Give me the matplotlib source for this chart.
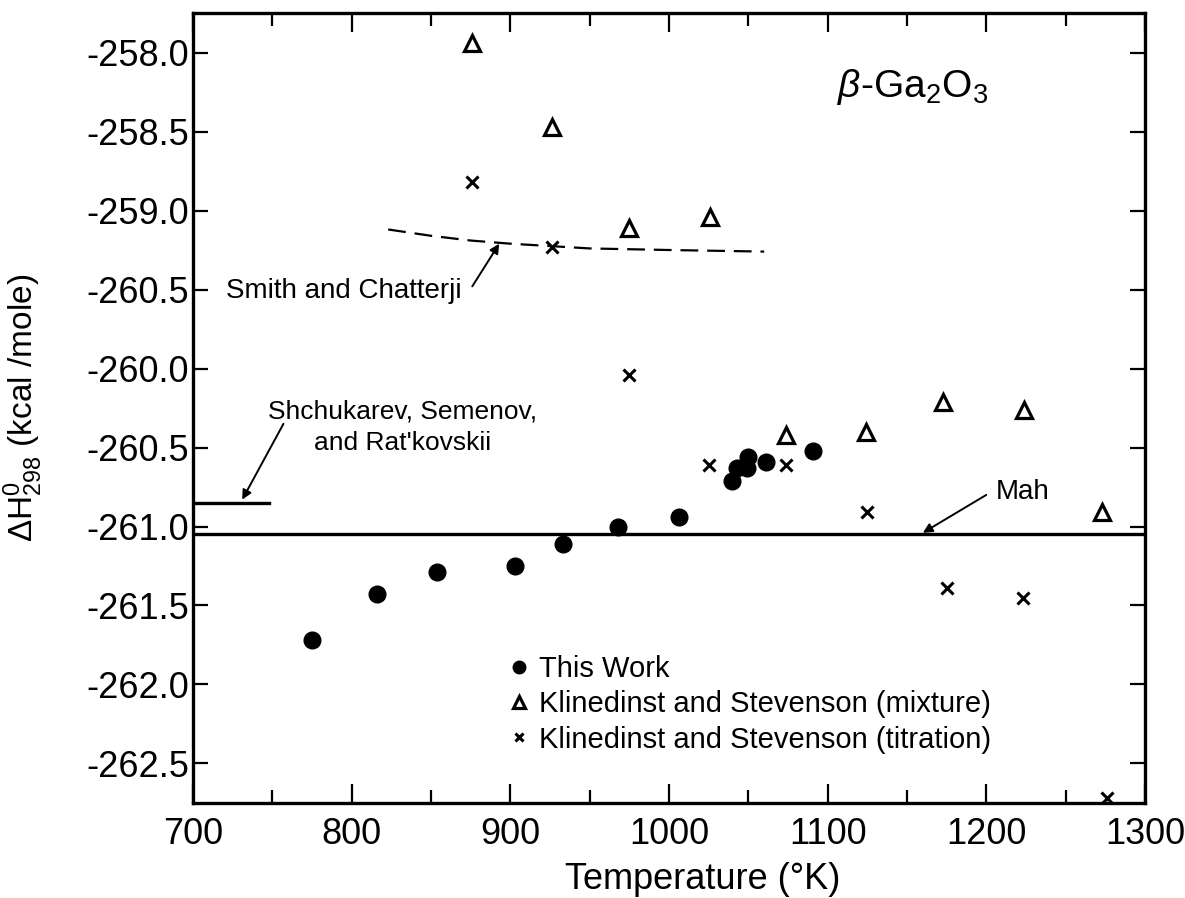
import matplotlib
matplotlib.use("Agg")
import matplotlib.pyplot as plt
from matplotlib.ticker import MultipleLocator, FixedLocator

plt.rcParams['font.family'] = ['Liberation Sans', 'DejaVu Sans']
plt.rcParams['mathtext.fontset'] = 'custom'
plt.rcParams['mathtext.rm'] = 'Liberation Sans'
plt.rcParams['mathtext.it'] = 'Liberation Sans:italic'

# This Work
this_T = [775, 816, 854, 903, 933, 968, 1006, 1040, 1043, 1049, 1050, 1061, 1091]
this_H = [-261.72, -261.43, -261.29, -261.25, -261.11, -261.00, -260.94,
          -260.71, -260.63, -260.63, -260.56, -260.59, -260.52]

# Klinedinst and Stevenson (mixture)
mix_T = [876, 926, 975, 1026, 1074, 1124, 1173, 1224, 1273]
mix_H = [-257.94, -258.47, -259.11, -259.04, -260.42, -260.40, -260.21, -260.26, -260.91]

# Klinedinst and Stevenson (titration)
tit_T = [876, 926, 975, 1025, 1074, 1125, 1175, 1223, 1276]
tit_H = [-258.82, -259.23, -260.04, -260.61, -260.61, -260.91, -261.39, -261.45, -262.72]

# Smith and Chatterji (dashed curve)
smith_T = [823, 850, 875, 900, 950, 1000, 1060]
smith_H = [-259.12, -259.16, -259.19, -259.21, -259.24, -259.25, -259.26]

# Shchukarev, Semenov, and Rat'kovskii (short line) and Mah (full line)
shch_T = [700, 748]
shch_H = -260.85
mah_H = -261.05

ytick_vals = [-258.0, -258.5, -259.0, -259.5, -260.0, -260.5, -261.0, -261.5, -262.0, -262.5]
ytick_labels = ["-258.0", "-258.5", "-259.0", "-260.5", "-260.0", "-260.5",
                "-261.0", "-261.5", "-262.0", "-262.5"]

fig = plt.figure(figsize=(11.85, 8.98), dpi=100)
ax = fig.add_axes([0.1629, 0.1058, 0.8033, 0.8797])

ax.axhline(mah_H, color='k', lw=2.4)
ax.plot(shch_T, [shch_H, shch_H], color='k', lw=2.4)
ax.plot(smith_T, smith_H, color='k', lw=1.6, dashes=(8, 4))

ax.plot(this_T, this_H, 'o', color='k', ms=12, ls='none', label='This Work')
ax.plot(mix_T, mix_H, '^', mfc='white', mec='k', mew=2.3, ms=11.5, ls='none',
        label='Klinedinst and Stevenson (mixture)')
ax.plot(tit_T, tit_H, 'x', color='k', mew=2.2, ms=8.5, ls='none',
        label='Klinedinst and Stevenson (titration)')

ax.set_xlim(700, 1300)
ax.set_ylim(-262.75, -257.75)
ax.xaxis.set_major_locator(MultipleLocator(100))
ax.xaxis.set_minor_locator(MultipleLocator(50))
ax.yaxis.set_major_locator(FixedLocator(ytick_vals))
ax.set_yticklabels(ytick_labels)

ax.tick_params(axis='both', which='both', direction='in', top=True, right=True,
               width=1.6, labelsize=26)
ax.tick_params(axis='x', which='major', length=14, pad=10)
ax.tick_params(axis='x', which='minor', length=9.5)
ax.tick_params(axis='y', which='major', length=11, pad=3)
for s in ax.spines.values():
    s.set_linewidth(2.4)

ax.set_xlabel('Temperature (°K)', fontsize=26)
ax.xaxis.set_label_coords(0.535, -0.075)
ax.set_ylabel(r'$\Delta$H$^{0}_{298}$ (kcal /mole)', fontsize=24)
ax.yaxis.set_label_coords(-0.155, 0.5)

ax.text(1106, -258.22, r'$\beta$-Ga$_2$O$_3$', fontsize=28, ha='left', va='center')

arrow = dict(arrowstyle='-|>', color='k', lw=1.4, mutation_scale=14, shrinkA=0, shrinkB=0)

ax.text(1206, -260.78, 'Mah', fontsize=20, ha='left', va='center')
ax.annotate('', xy=(1160, -261.04), xytext=(1200, -260.80), arrowprops=arrow)

ax.text(721, -259.51, 'Smith and Chatterji', fontsize=20, ha='left', va='center')
ax.annotate('', xy=(893, -259.21), xytext=(876, -259.48), arrowprops=arrow)

ax.text(832, -260.37, "Shchukarev, Semenov,\nand Rat'kovskii", fontsize=19,
        ha='center', va='center', multialignment='center', linespacing=1.4)
ax.annotate('', xy=(731, -260.83), xytext=(757, -260.35), arrowprops=arrow)

ax.legend(loc='center left', bbox_to_anchor=(0.333, 0.125), frameon=False, fontsize=21,
          handlelength=0.6, handletextpad=0.4, labelspacing=0.25, markerscale=0.75,
          borderpad=0, borderaxespad=0)

fig.savefig('out.png', dpi=100)
